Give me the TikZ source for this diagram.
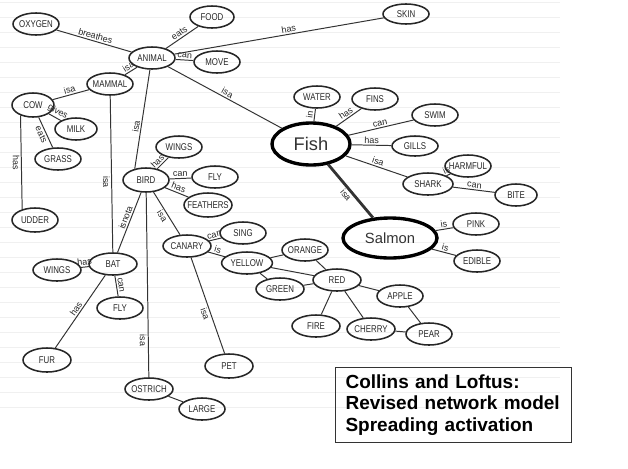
\documentclass[tikz,border=0pt]{standalone}
\usepackage{fontspec}
\setmainfont{Liberation Sans}
\newfontfamily\conceptfont[FakeStretch=0.8]{Liberation Sans}
\usetikzlibrary{shapes.geometric}

\begin{document}
\begin{tikzpicture}[
    x=0.025cm, y=-0.025cm,
    concept/.style={
      ellipse, draw=black!85, line width=1.1pt,
      minimum width=1.15cm, minimum height=0.55cm, inner sep=0pt,
      label={[font=\conceptfont\fontsize{7}{8}\selectfont, text=black!85]center:#1}
    },
    mainconcept/.style={
      ellipse, draw=black, line width=2.4pt, inner sep=0pt, text=black!80
    },
    link/.style={draw=black!80, line width=0.7pt},
    rel/.style={font=\fontsize{6.4}{6.4}\selectfont, text=black!85, inner sep=1pt, sloped},
    infobox/.style={
      draw=black!80, line width=0.8pt, anchor=north west, align=left,
      text width=5.4cm, inner xsep=0.25cm, inner ysep=3pt,
      minimum height=1.875cm, font=\bfseries\fontsize{13.5}{15.3}\selectfont
    }
  ]
  \useasboundingbox (0,0) rectangle (628,468);

  % faint ruling of the scanned page
  \foreach \y in {2,17,...,407}
    \draw[black!6, line width=0.4pt] (0,\y) -- (560,\y);

  % animal, mammals
  \node[concept=OXYGEN] (oxygen) at (36,24) {};
  \node[concept=FOOD, minimum width=1.1cm] (food) at (212,17) {};
  \node[concept=SKIN, minimum height=0.5cm] (skin) at (406,14) {};
  \node[concept=ANIMAL] (animal) at (152,58) {};
  \node[concept=MOVE] (move) at (217,62) {};
  \node[concept=MAMMAL] (mammal) at (110,84) {};
  \node[concept=COW, minimum width=1.05cm, minimum height=0.6cm] (cow) at (33,105) {};
  \node[concept=MILK, minimum width=1.05cm] (milk) at (76,129) {};
  \node[concept=GRASS] (grass) at (58,159) {};
  \node[concept=UDDER, minimum height=0.6cm] (udder) at (35,220) {};

  % fish
  \node[mainconcept, minimum width=1.95cm, minimum height=1.05cm,
    font=\fontsize{13}{15}\selectfont] (fish) at (311,144) {Fish};
  \node[concept=WATER] (water) at (317,97) {};
  \node[concept=FINS] (fins) at (375,99) {};
  \node[concept=SWIM] (swim) at (435,115) {};
  \node[concept=GILLS, minimum height=0.5cm] (gills) at (415,146) {};
  \node[concept=SHARK, minimum width=1.25cm] (shark) at (428,184) {};
  \node[concept=HARMFUL] (harmful) at (468,166) {};
  \node[concept=BITE, minimum width=1.05cm] (bite) at (516,195) {};
  \node[mainconcept, minimum width=2.35cm, minimum height=1.0cm,
    font=\fontsize{10.5}{12}\selectfont] (salmon) at (390,238) {Salmon};
  \node[concept=PINK] (pink) at (476,224) {};
  \node[concept=EDIBLE] (edible) at (477,261) {};

  % birds
  \node[concept=WINGS] (birdwings) at (179,147) {};
  \node[concept=BIRD, minimum height=0.6cm] (bird) at (146,180) {};
  \node[concept=FLY] (birdfly) at (215,177) {};
  \node[concept=FEATHERS, minimum width=1.2cm, minimum height=0.6cm] (feathers) at (208,205) {};
  \node[concept=CANARY, minimum width=1.2cm] (canary) at (187,246) {};
  \node[concept=SING] (sing) at (243,233) {};
  \node[concept=OSTRICH, minimum width=1.2cm] (ostrich) at (149,389) {};
  \node[concept=LARGE] (large) at (202,409) {};
  \node[concept=PET, minimum width=1.2cm, minimum height=0.6cm] (pet) at (229,366) {};

  % colours and things
  \node[concept=YELLOW, minimum width=1.27cm] (yellow) at (247,263) {};
  \node[concept=ORANGE] (orange) at (305,250) {};
  \node[concept=GREEN, minimum width=1.2cm] (green) at (280,289) {};
  \node[concept=RED, minimum width=1.2cm] (red) at (337,280) {};
  \node[concept=APPLE] (apple) at (400,296) {};
  \node[concept=FIRE, minimum width=1.2cm] (fire) at (316,326) {};
  \node[concept=CHERRY, minimum width=1.2cm] (cherry) at (371,329) {};
  \node[concept=PEAR] (pear) at (429,334) {};

  % bat
  \node[concept=WINGS, minimum width=1.2cm] (batwings) at (57,270) {};
  \node[concept=BAT, minimum width=1.2cm] (bat) at (113,264) {};
  \node[concept=FLY] (batfly) at (120,308) {};
  \node[concept=FUR, minimum width=1.2cm, minimum height=0.6cm] (fur) at (47,360) {};

  \node[infobox] (legend) at (335,367)
    {Collins and Loftus:\\Revised network model\\Spreading activation};

  \draw[link] (oxygen) -- node[rel, above] {breathes} (animal);
  \draw[link] (animal) -- node[rel, above] {eats} (food);
  \draw[link] (animal) -- node[rel, above, pos=0.55] {has} (skin);
  \draw[link] (animal) -- node[rel, above] {can} (move);
  \draw[link] (animal) -- node[rel, above] {isa} (mammal);
  \draw[link] (animal) -- node[rel, above] {isa} (fish);
  \draw[link] (bird.135) -- node[rel, above, pos=0.42] {isa} (animal.260);
  \draw[link] (mammal) -- node[rel, above] {isa} (cow);
  \draw[link] (mammal) -- node[rel, below, pos=0.55] {isa} (bat);
  \draw[link] (cow) -- node[rel, above] {gives} (milk);
  \draw[link] (cow) -- node[rel, below] {eats} (grass);
  \draw[link] (cow.220) -- node[rel, below] {has} (udder.140);

  \draw[link] (fish) -- node[rel, above] {in} (water);
  \draw[link] (fish) -- node[rel, above] {has} (fins);
  \draw[link] (fish) -- node[rel, above] {can} (swim);
  \draw[link] (fish) -- node[rel, above] {has} (gills);
  \draw[link] (fish) -- node[rel, above] {isa} (shark);
  \draw[link, line width=2pt] (fish) -- node[rel, below] {isa} (salmon);
  \draw[link] (shark) -- node[rel, above] {is} (harmful);
  \draw[link] (shark) -- node[rel, above] {can} (bite);
  \draw[link] (salmon) -- node[rel, above] {is} (pink);
  \draw[link] (salmon) -- node[rel, above] {is} (edible);

  \draw[link] (bird) -- node[rel, above, pos=0.35] {has} (birdwings);
  \draw[link] (bird) -- node[rel, above] {can} (birdfly);
  \draw[link] (bird) -- node[rel, above] {has} (feathers);
  \draw[link] (bird) -- node[rel, below] {isa} (canary);
  \draw[link] (bird) -- node[rel, above, pos=0.45] {isnota} (bat);
  \draw[link] (bird) -- node[rel, below, pos=0.8] {isa} (ostrich);
  \draw[link] (ostrich) -- (large);
  \draw[link] (canary) -- node[rel, above] {can} (sing);
  \draw[link] (canary) -- node[rel, above] {is} (yellow);
  \draw[link] (canary) -- node[rel, below, pos=0.57] {isa} (pet);

  \draw[link] (yellow) -- (orange);
  \draw[link] (yellow) -- (red);
  \draw[link] (yellow) -- (green);
  \draw[link] (orange) -- (red);
  \draw[link] (green) -- (red);
  \draw[link] (red) -- (apple);
  \draw[link] (red) -- (fire);
  \draw[link] (red) -- (cherry);
  \draw[link] (apple) -- (pear);
  \draw[link] (cherry) -- (pear);

  \draw[link] (bat) -- node[rel, above] {has} (batwings);
  \draw[link] (bat) -- node[rel, above] {can} (batfly);
  \draw[link] (bat) -- node[rel, above] {has} (fur);
\end{tikzpicture}
\end{document}
